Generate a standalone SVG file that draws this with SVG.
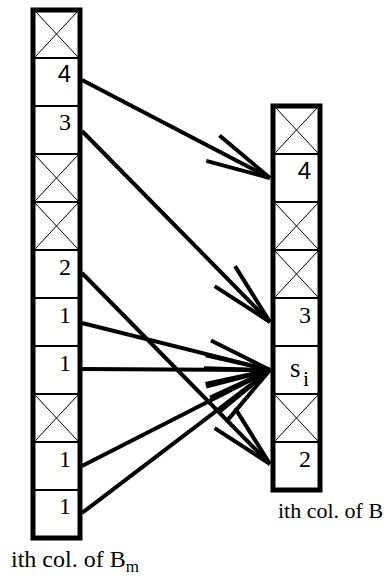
<svg xmlns="http://www.w3.org/2000/svg" width="390" height="579" viewBox="0 0 390 579">
  <style>
    .col { fill: #fff; stroke: #000; stroke-width: 5; }
    .div { stroke: #000; stroke-width: 2; }
    .x { stroke: #000; stroke-width: 1; }
    .num { font-family: "Liberation Serif", "Times New Roman", serif; font-size: 24px; fill: #000; text-anchor: end; }
    .sans { font-family: "Liberation Sans", Arial, sans-serif; font-size: 24px; }
    .lbl { font-family: "Liberation Serif", "Times New Roman", serif; font-size: 24px; fill: #000; }
    .arrow { stroke: #000; stroke-width: 4; fill: none; marker-end: url(#ah); }
  </style>
  <defs>
    <marker id="ah" markerUnits="userSpaceOnUse" orient="auto" refX="0" refY="0" markerWidth="80" markerHeight="40" overflow="visible">
      <path d="M-64.4,-14.3 L0,0 M-64.4,14.3 L0,0" stroke="#000" stroke-width="4" fill="none"/>
    </marker>
  </defs>

  <!-- left column: ith col. of B_m -->
  <g id="left-column">
    <rect class="col" x="33" y="10" width="47" height="528"/>
    <g id="L0"><line class="x" x1="35" y1="11" x2="78" y2="57"/><line class="x" x1="78" y1="11" x2="35" y2="57"/></g>
    <g id="L1"><line class="div" x1="33" y1="58" x2="80" y2="58"/><text class="num sans" x="71" y="82">4</text></g>
    <g id="L2"><line class="div" x1="33" y1="106" x2="80" y2="106"/><text class="num" x="71" y="130">3</text></g>
    <g id="L3"><line class="div" x1="33" y1="154" x2="80" y2="154"/><line class="x" x1="35" y1="155" x2="78" y2="201"/><line class="x" x1="78" y1="155" x2="35" y2="201"/></g>
    <g id="L4"><line class="div" x1="33" y1="202" x2="80" y2="202"/><line class="x" x1="35" y1="203" x2="78" y2="249"/><line class="x" x1="78" y1="203" x2="35" y2="249"/></g>
    <g id="L5"><line class="div" x1="33" y1="250" x2="80" y2="250"/><text class="num" x="71" y="275">2</text></g>
    <g id="L6"><line class="div" x1="33" y1="298" x2="80" y2="298"/><text class="num" x="71" y="323">1</text></g>
    <g id="L7"><line class="div" x1="33" y1="346" x2="80" y2="346"/><text class="num" x="71" y="371">1</text></g>
    <g id="L8"><line class="div" x1="33" y1="394" x2="80" y2="394"/><line class="x" x1="35" y1="395" x2="78" y2="441"/><line class="x" x1="78" y1="395" x2="35" y2="441"/></g>
    <g id="L9"><line class="div" x1="33" y1="442" x2="80" y2="442"/><text class="num" x="71" y="467">1</text></g>
    <g id="L10"><line class="div" x1="33" y1="490" x2="80" y2="490"/><text class="num" x="71" y="514">1</text></g>
    <text class="lbl" x="11" y="567">ith col. of B<tspan style="font-size:17px" dy="5">m</tspan></text>
  </g>

  <!-- right column: ith col. of B -->
  <g id="right-column">
    <rect class="col" x="273" y="106" width="47" height="384"/>
    <g id="R0"><line class="x" x1="275" y1="107" x2="318" y2="153"/><line class="x" x1="318" y1="107" x2="275" y2="153"/></g>
    <g id="R1"><line class="div" x1="273" y1="154" x2="320" y2="154"/><text class="num sans" x="311" y="179">4</text></g>
    <g id="R2"><line class="div" x1="273" y1="202" x2="320" y2="202"/><line class="x" x1="275" y1="203" x2="318" y2="249"/><line class="x" x1="318" y1="203" x2="275" y2="249"/></g>
    <g id="R3"><line class="div" x1="273" y1="250" x2="320" y2="250"/><line class="x" x1="275" y1="251" x2="318" y2="297"/><line class="x" x1="318" y1="251" x2="275" y2="297"/></g>
    <g id="R4"><line class="div" x1="273" y1="298" x2="320" y2="298"/><text class="num" x="311" y="323">3</text></g>
    <g id="R5"><line class="div" x1="273" y1="346" x2="320" y2="346"/><text class="lbl" x="290" y="377" style="font-size:27px">s</text><text class="lbl" x="303" y="386" style="font-size:22px">i</text></g>
    <g id="R6"><line class="div" x1="273" y1="394" x2="320" y2="394"/><line class="x" x1="275" y1="395" x2="318" y2="441"/><line class="x" x1="318" y1="395" x2="275" y2="441"/></g>
    <g id="R7"><line class="div" x1="273" y1="442" x2="320" y2="442"/><text class="num" x="311" y="467">2</text></g>
    <text class="lbl" x="278" y="518" style="font-size:22px">ith col. of B</text>
  </g>

  <!-- connectors -->
  <g id="connectors">
    <line class="arrow" x1="82" y1="80" x2="270" y2="178"/>
    <line class="arrow" x1="82" y1="131" x2="270" y2="322"/>
    <line class="arrow" x1="82" y1="273" x2="270" y2="464"/>
    <line class="arrow" x1="82" y1="323" x2="270" y2="370"/>
    <line class="arrow" x1="82" y1="369" x2="270" y2="370"/>
    <line class="arrow" x1="82" y1="466" x2="270" y2="370"/>
    <line class="arrow" x1="82" y1="513" x2="270" y2="370"/>
  </g>
</svg>
